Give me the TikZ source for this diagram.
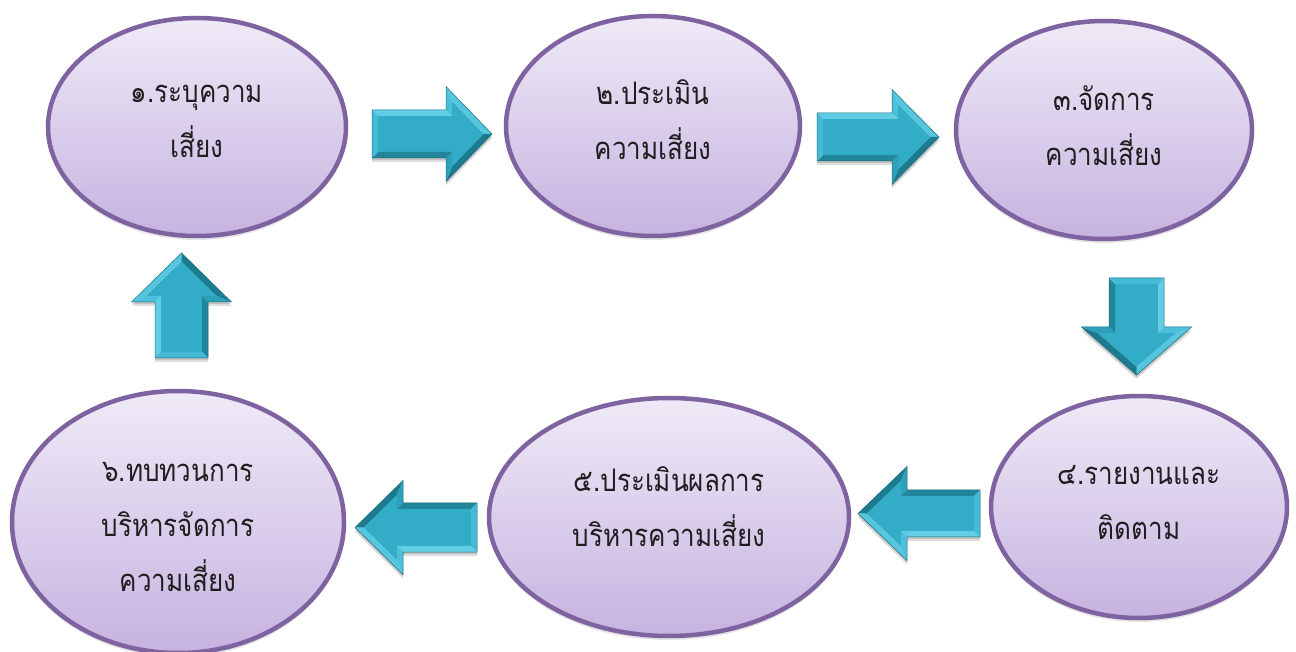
\documentclass[tikz,border=0pt]{standalone}
\usepackage{fontspec}
\newfontfamily\thaifont[Script=Thai,FakeStretch=0.84]{Loma}
\usetikzlibrary{shapes.geometric,shadows,calc}
\definecolor{ebord}{HTML}{7F63A1}
\definecolor{etop}{HTML}{EFEAF7}
\definecolor{ebot}{HTML}{C6B3E0}
\definecolor{amain}{HTML}{33ACC8}
\definecolor{alight}{HTML}{6ED6EC}
\definecolor{amid}{HTML}{4CC0DA}
\definecolor{adark}{HTML}{1D7B90}
\definecolor{aedge}{HTML}{1A6D80}
\tikzset{
  ell/.style={ellipse, draw=ebord, line width=4.5pt, top color=etop, bottom color=ebot,
    drop shadow={opacity=0.22, shadow xshift=0pt, shadow yshift=-4pt}, inner sep=0pt},
  txt/.style={align=center, text=black!88, inner sep=0pt,
    font=\thaifont\fontsize{31}{55}\selectfont},
  arrshadow/.style={fill=black, opacity=0.13}
}
% #1 tail x, #2 tail y, #3 angle, #4 length, #5 shaft half width, #6 head half width, #7 head length
\newcommand\bevarrow[7]{%
  \pgfmathsetmacro\aL{#4}\pgfmathsetmacro\aS{#5}\pgfmathsetmacro\aH{#6}\pgfmathsetmacro\aK{#7}%
  \pgfmathsetmacro\aB{\aL-\aK}%
  \pgfmathsetmacro\aN{sqrt(\aH*\aH+\aK*\aK)}%
  \pgfmathsetmacro\ad{6}%
  \pgfmathsetmacro\qy{\aH-\ad*(\aN+\aH)/\aK}%
  \pgfmathsetmacro\qx{\aL-\ad*\aN/\aH}%
  \pgfmathsetmacro\qb{\aB+\ad}%
  \pgfmathsetmacro\qs{\aS-\ad}%
  \begin{scope}[shift={(0,-4)}]\begin{scope}[shift={(#1,#2)},rotate=#3]
    \fill[arrshadow] (0,\aS) -- (\aB,\aS) -- (\aB,\aH) -- (\aL,0) -- (\aB,-\aH) -- (\aB,-\aS) -- (0,-\aS) -- cycle;
  \end{scope}\end{scope}
  \begin{scope}[shift={(0,-2)}]\begin{scope}[shift={(#1,#2)},rotate=#3]
    \fill[arrshadow] (0,\aS) -- (\aB,\aS) -- (\aB,\aH) -- (\aL,0) -- (\aB,-\aH) -- (\aB,-\aS) -- (0,-\aS) -- cycle;
  \end{scope}\end{scope}
  \begin{scope}[shift={(#1,#2)},rotate=#3]
    \coordinate (P1) at (0,\aS);   \coordinate (P2) at (\aB,\aS);
    \coordinate (P3) at (\aB,\aH); \coordinate (P4) at (\aL,0);
    \coordinate (P5) at (\aB,-\aH);\coordinate (P6) at (\aB,-\aS);
    \coordinate (P7) at (0,-\aS);
    \coordinate (Q1) at (\ad,\qs);  \coordinate (Q2) at (\qb,\qs);
    \coordinate (Q3) at (\qb,\qy);  \coordinate (Q4) at (\qx,0);
    \coordinate (Q5) at (\qb,-\qy); \coordinate (Q6) at (\qb,-\qs);
    \coordinate (Q7) at (\ad,-\qs);
    \fill[amain] (Q1) -- (Q2) -- (Q3) -- (Q4) -- (Q5) -- (Q6) -- (Q7) -- cycle;
    \fill[alight!80!amain] (P1) -- (P2) -- (Q2) -- (Q1) -- cycle;
    \fill[amid] (P2) -- (P3) -- (Q3) -- (Q2) -- cycle;
    \fill[alight!60!amain] (P3) -- (P4) -- (Q4) -- (Q3) -- cycle;
    \fill[adark] (P4) -- (P5) -- (Q5) -- (Q4) -- cycle;
    \fill[amain!75!adark] (P5) -- (P6) -- (Q6) -- (Q5) -- cycle;
    \fill[adark!80!amain] (P6) -- (P7) -- (Q7) -- (Q6) -- cycle;
    \fill[amid!70!amain] (P7) -- (P1) -- (Q1) -- (Q7) -- cycle;
    \draw[aedge, line width=0.5pt, line join=miter] (P1) -- (P2) -- (P3) -- (P4) -- (P5) -- (P6) -- (P7) -- cycle;
  \end{scope}%
}
\begin{document}
\begin{tikzpicture}[x=1pt,y=1pt]
\fill[white] (0,0) rectangle (1296,651);
\useasboundingbox (0,0) rectangle (1296,651);

\node[ell, minimum width=298pt, minimum height=218pt] (e1) at (197,524) {};
\node[ell, minimum width=294pt, minimum height=220pt] (e2) at (653,525) {};
\node[ell, minimum width=296pt, minimum height=218pt] (e3) at (1104,521) {};
\node[ell, minimum width=296pt, minimum height=222pt] (e4) at (1139,144) {};
\node[ell, minimum width=360pt, minimum height=238pt] (e5) at (669,134) {};
\node[ell, minimum width=332pt, minimum height=262pt] (e6) at (178,129) {};

\node[txt] (t1) at ($(e1.center)+(0,6)$) {๑.ระบุความ\\เสี่ยง};
\node[txt] (t2) at ($(e2.center)+(0,6)$) {๒.ประเมิน\\ความเสี่ยง};
\node[txt] (t3) at ($(e3.center)+(0,4.5)$) {๓.จัดการ\\ความเสี่ยง};
\node[txt] (t4) at ($(e4.center)+(0,4)$) {๔.รายงานและ\\ติดตาม};
\node[txt] (t5) at ($(e5.center)+(0,10)$) {๕.ประเมินผลการ\\บริหารความเสี่ยง};
\node[txt] (t6) at ($(e6.center)+(0,-5)$) {๖.ทบทวนการ\\บริหารจัดการ\\ความเสี่ยง};

\bevarrow{372}{517}{0}{120}{24}{47.5}{46}
\bevarrow{817}{514}{0}{122}{24}{47.5}{47}
\bevarrow{1136.5}{373}{-90}{97}{27.5}{55}{48}
\bevarrow{980}{137.5}{180}{122}{23.5}{47}{49}
\bevarrow{477}{123.5}{180}{122}{24.5}{47}{48}
\bevarrow{181.5}{293}{90}{105}{26.5}{50}{49}
\end{tikzpicture}
\end{document}
